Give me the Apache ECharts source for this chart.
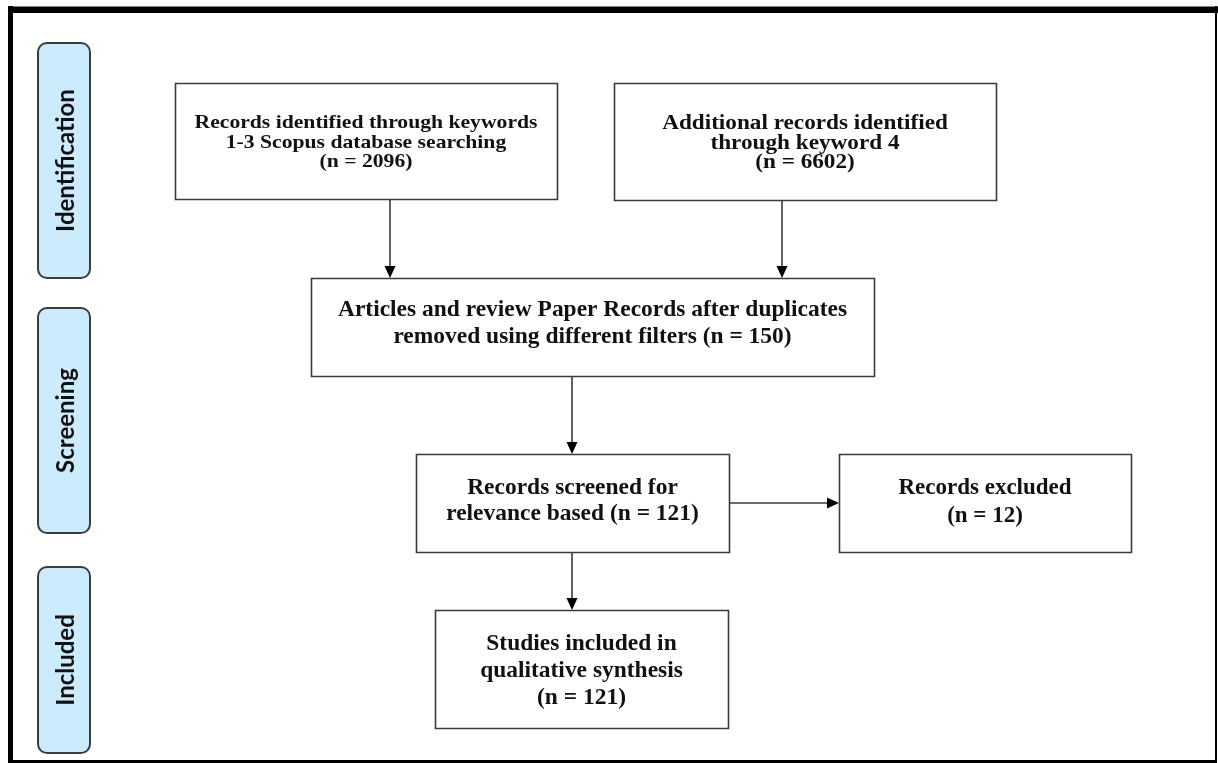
<!DOCTYPE html>
<html>
<head>
<meta charset="utf-8">
<script src="https://cdn.jsdelivr.net/npm/echarts@6/dist/echarts.min.js"></script>
<style>
html,body{margin:0;padding:0;background:#fff;}
#c{width:1218px;height:763px;}
</style>
</head>
<body>
<div id="c"></div>
<script>
// ---- data ----
const stageLabels = ['Identification', 'Screening', 'Included'];
const boxTitles = [
  ['Records identified through keywords', '1-3 Scopus database searching'],
  ['Additional records identified', 'through keyword 4'],
  ['Articles and review Paper Records after duplicates', 'removed using different filters'],
  ['Records screened for', 'relevance based'],
  ['Records excluded'],
  ['Studies included in', 'qualitative synthesis']
];
const boxCounts = [2096, 6602, 150, 121, 12, 121];
const countOnOwnLine = [true, true, false, false, true, true];
// flow links: [from box, to box]
const links = [[0, 2], [1, 2], [2, 3], [3, 4], [3, 5]];

// ---- layout (positions / sizes / styles) ----
const stageRects = [
  {x: 38, y: 43, w: 52, h: 235},
  {x: 38, y: 308, w: 52, h: 225},
  {x: 38, y: 567, w: 52, h: 186}
];
const boxRects = [
  {x: 175, y: 83, w: 382, h: 116, lh: 19.5, fs: 19.5, sx: 1.11, dy: 1.5},
  {x: 614, y: 83, w: 382, h: 117, lh: 19.5, fs: 20, sx: 1.16, dy: 2},
  {x: 311, y: 278, w: 563, h: 98, lh: 27, fs: 23, sx: 1.02, dy: -3},
  {x: 416, y: 454, w: 313, h: 98, lh: 26, fs: 23, sx: 1.02, dy: -2},
  {x: 839, y: 454, w: 292, h: 98, lh: 28, fs: 23, sx: 1.0, dy: -1},
  {x: 435, y: 610, w: 293, h: 118, lh: 27, fs: 23, sx: 1.02, dy: 2}
];
// arrow anchor points
const arrowPaths = [
  [[390, 199], [390, 278]],
  [[782, 200], [782, 278]],
  [[572, 376], [572, 454]],
  [[729, 503], [839, 503]],
  [[572, 552], [572, 610]]
];

const LINE = '#3a3a3a';
const graphic = [];

// outer frame
graphic.push({type: 'rect', shape: {x: 0, y: 0, width: 1218, height: 763}, style: {fill: '#fff'}, z: 0});
graphic.push({type: 'rect', shape: {x: 8, y: 6, width: 1210, height: 1}, style: {fill: '#888'}, z: 10});
graphic.push({type: 'rect', shape: {x: 8, y: 7, width: 1210, height: 6}, style: {fill: '#000'}, z: 10});
graphic.push({type: 'rect', shape: {x: 8, y: 6, width: 5, height: 757}, style: {fill: '#000'}, z: 10});
graphic.push({type: 'rect', shape: {x: 1215, y: 6, width: 2, height: 757}, style: {fill: '#000'}, z: 10});
graphic.push({type: 'rect', shape: {x: 8, y: 760, width: 1209, height: 3}, style: {fill: '#000'}, z: 10});

// stage pills
stageLabels.forEach(function (lab, i) {
  const r = stageRects[i];
  graphic.push({
    type: 'rect',
    shape: {x: r.x, y: r.y, width: r.w, height: r.h, r: 9},
    style: {fill: '#CCEBFD', stroke: '#3c3c3c', lineWidth: 2},
    z: 5
  });
  graphic.push({
    type: 'text',
    x: r.x + r.w / 2 + 2,
    y: r.y + r.h / 2,
    rotation: Math.PI / 2,
    style: {
      text: lab,
      font: 'bold 24px Lato, "Open Sans", sans-serif',
      fill: '#111',
      align: 'center',
      verticalAlign: 'middle'
    },
    z: 6
  });
});

// boxes
boxTitles.forEach(function (lines, i) {
  const r = boxRects[i];
  const n = '(n = ' + boxCounts[i] + ')';
  let txtLines = lines.slice();
  if (countOnOwnLine[i]) txtLines.push(n);
  else txtLines[txtLines.length - 1] += ' ' + n;
  graphic.push({
    type: 'rect',
    shape: {x: r.x + 0.5, y: r.y + 0.5, width: r.w, height: r.h},
    style: {fill: '#fff', stroke: LINE, lineWidth: 1.6},
    z: 5
  });
  graphic.push({
    type: 'text',
    x: r.x + r.w / 2,
    y: r.y + r.h / 2 + r.dy,
    scaleX: r.sx,
    style: {
      text: txtLines.join('\n'),
      font: 'bold ' + r.fs + 'px "Liberation Serif", "Times New Roman", serif',
      fill: '#111',
      align: 'center',
      verticalAlign: 'middle',
      lineHeight: r.lh
    },
    z: 6
  });
});

// arrows
links.forEach(function (lk, i) {
  const p = arrowPaths[i];
  const a = p[0], b = p[1];
  const dx = b[0] - a[0], dy = b[1] - a[1];
  const len = Math.sqrt(dx * dx + dy * dy);
  const ux = dx / len, uy = dy / len;
  const hl = 12, hw = 5.5;
  const bx = b[0] - ux * hl, by = b[1] - uy * hl;
  graphic.push({
    type: 'line',
    shape: {x1: a[0], y1: a[1], x2: bx, y2: by},
    style: {stroke: LINE, lineWidth: 1.6},
    z: 4
  });
  graphic.push({
    type: 'polygon',
    shape: {points: [[b[0], b[1]], [bx - uy * hw, by + ux * hw], [bx + uy * hw, by - ux * hw]]},
    style: {fill: '#000'},
    z: 7
  });
});

const chart = echarts.init(document.getElementById('c'), null, {renderer: 'canvas'});
chart.setOption({
  backgroundColor: '#fff',
  animation: false,
  graphic: graphic
});
</script>
</body>
</html>
